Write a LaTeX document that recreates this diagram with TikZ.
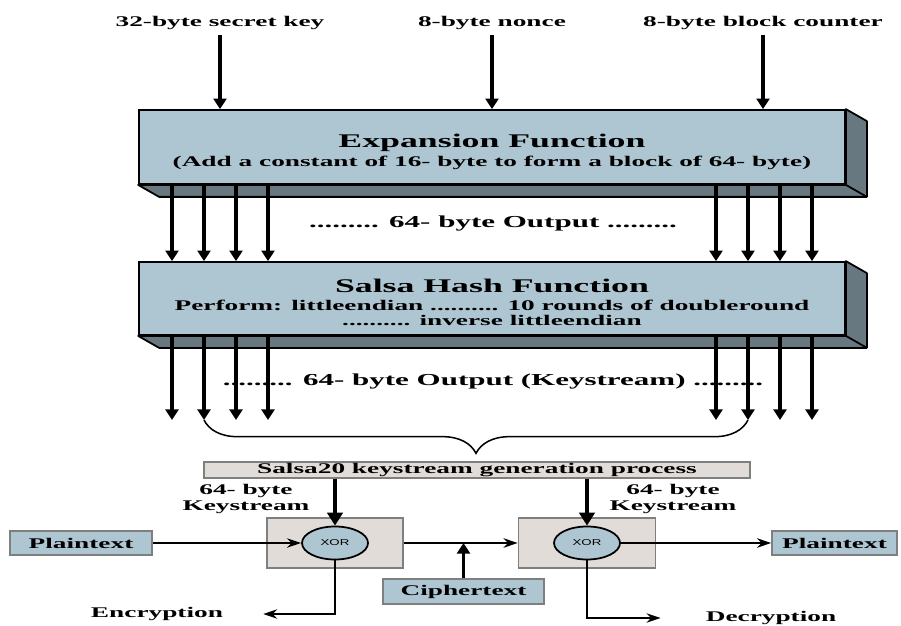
\documentclass[tikz,border=0pt]{standalone}
\usepackage{fontspec}
\setmainfont[FakeStretch=1.85]{Liberation Serif}
\newfontfamily\xorfont[FakeStretch=1.55]{Liberation Sans}
\usepackage{tikz}
\usetikzlibrary{arrows.meta,positioning,calc,shapes.geometric,decorations.pathreplacing}
\definecolor{Front}{HTML}{AEC6D2}
\definecolor{Side}{HTML}{687880}
\definecolor{Pale}{HTML}{E2DCD8}
\definecolor{Rim}{HTML}{7F7F7F}

\begin{document}
\begin{tikzpicture}[x=0.03cm,y=-0.03cm,>={Triangle[length=9pt,width=11pt]},
  every node/.style={align=center,inner sep=0pt},
  txt/.style={font=\fontsize{12.6}{12.8}\selectfont\bfseries},
  outtxt/.style={font=\fontsize{14.3}{16}\selectfont\bfseries},
  title/.style={font=\fontsize{16.5}{19}\selectfont\bfseries},
  front/.style={draw,line width=1.5pt,fill=Front,minimum width=21.18cm},
  flat/.style={draw=Rim,line width=1.4pt,fill=#1},
  xor/.style={ellipse,draw,line width=1.5pt,fill=Front,minimum width=1.98cm,minimum height=0.99cm,font=\xorfont\fontsize{7.3}{8}\selectfont},
  feed/.style={->,line width=2.6pt},
  bigfeed/.style={-{Triangle[length=11pt,width=13pt]},line width=3.4pt},
  flow/.style={-{Stealth[length=12pt,width=8pt]},line width=1.7pt}]
  \useasboundingbox (0,0) rectangle (901,626);

  % inputs
  \node[txt] (key) at (220,23) {32-byte secret key};
  \node[txt] (nonce) at (492,23) {8-byte nonce};
  \node[txt] (ctr) at (763,23) {8-byte block counter};

  % the two 3d blocks
  \node[front,minimum height=2.22cm] (exp) at (492,147) {};
  \node[front,minimum height=2.19cm] (salsa) at (492,298.5) {};
  \foreach \b in {exp,salsa}{
    \filldraw[Side,draw=black,line width=1.5pt,line join=round] (\b.north east) -- ++(21,12)
      -- ($(\b.south east)+(21,12)$) -- ($(\b.south west)+(21,12)$) -- (\b.south west)
      -- (\b.south east) -- cycle;
    \draw[line width=1.5pt] (\b.south east) -- ++(21,12);
  }
  \node[title] (exptitle) at (492,143) {Expansion Function};
  \node[txt] (expnote) at (492,163) {(Add a constant of 16- byte to form a block of 64- byte)};
  \node[title] (salsatitle) at (492,285.5) {Salsa Hash Function};
  \node[txt] (salsanote) at (492,313)
    {Perform: littleendian .......... 10 rounds of doubleround\\.......... inverse littleendian};

  \draw[feed,shorten <=4pt] (key) -- (key |- exp.north);
  \draw[feed,shorten <=4pt] (nonce) -- (nonce |- exp.north);
  \draw[feed,shorten <=4pt] (ctr) -- (ctr |- exp.north);

  \coordinate (kl) at (204,420);
  \coordinate (kr) at (748,420);
  \foreach \x in {172,204,236,268,716,748,780,812}{
    \draw[feed] (\x,0 |- exp.south) -- (\x,0 |- salsa.north);
    \draw[feed] (\x,0 |- salsa.south) -- (\x,0 |- kl);
  }
  \node[outtxt] (out) at (493,223) {......... 64- byte Output .........};
  \node[outtxt] (ks) at (493,381) {......... 64- byte Output (Keystream) .........};
  \draw[decorate,decoration={brace,amplitude=1cm},line width=1.3pt] (kr) -- (kl);

  % keystream use
  \node[flat=Pale,txt,minimum width=16.38cm,minimum height=0.48cm] (gen) at (477,470)
    {Salsa20 keystream generation process};
  \node[flat=Pale,minimum width=4.08cm,minimum height=1.5cm] (xl) at (335,543) {};
  \node[xor] (cl) at (335,543) {XOR};
  \node[flat=Pale,minimum width=4.11cm,minimum height=1.5cm] (xr) at (587,543) {};
  \node[xor] (cr) at (587,543) {XOR};
  \node[flat=Front,txt,minimum width=4.26cm,minimum height=0.72cm] (pl) at (81,543) {Plaintext};
  \node[flat=Front,txt,minimum width=3.75cm,minimum height=0.72cm] (pr) at (834.5,543) {Plaintext};
  \node[flat=Front,txt,minimum width=4.83cm,minimum height=0.75cm] (ct) at (463.5,591.5) {Ciphertext};
  \node[txt,font=\fontsize{12.6}{13.7}\selectfont\bfseries] (ksl) at (246,499) {64- byte\\Keystream};
  \node[txt,font=\fontsize{12.6}{13.7}\selectfont\bfseries] (ksr) at (673,499) {64- byte\\Keystream};
  \node[txt] (enc) at (157,614) {Encryption};
  \node[txt] (dec) at (771,618) {Decryption};

  \draw[bigfeed] (gen.south -| cl) -- (cl);
  \draw[bigfeed] (gen.south -| cr) -- (cr);
  \draw[flow] (pl) -- (cl);
  \draw[flow] (xl) -- (xr);
  \draw[feed] (ct) -- (ct |- xl.east);
  \draw[flow] (cr) -- (pr);
  \draw[flow,shorten >=1.2cm] (cl) |- (enc);
  \draw[flow,shorten >=1.35cm] (cr) |- (dec);
\end{tikzpicture}
\end{document}
